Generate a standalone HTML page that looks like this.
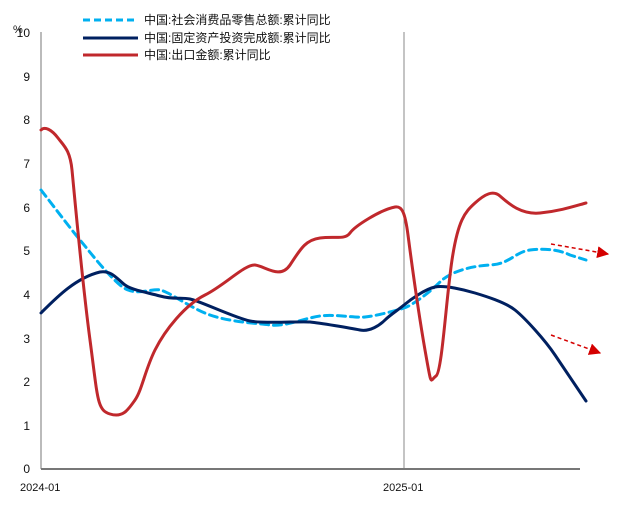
<!DOCTYPE html>
<html><head><meta charset="utf-8"><style>
body{margin:0;background:#fff;}
svg text{font-family:"Liberation Sans","Noto Sans CJK SC",sans-serif;font-size:12px;fill:#111;}
</style></head><body>
<svg width="634" height="506" viewBox="0 0 634 506" xmlns="http://www.w3.org/2000/svg">
<defs>
<marker id="ah2" viewBox="0 0 10 10" markerWidth="12" markerHeight="12" refX="9" refY="5" orient="auto" markerUnits="userSpaceOnUse"><path d="M0,0 L10,5 L0,10 z" fill="#d40000"/></marker></defs>
<line x1="41" y1="32" x2="41" y2="469" stroke="#777" stroke-width="1"/>
<line x1="404" y1="32" x2="404" y2="469" stroke="#888" stroke-width="1"/>
<line x1="41" y1="469" x2="580" y2="469" stroke="#777" stroke-width="2"/>
<g text-anchor="end">
<text x="30" y="473">0</text><text x="30" y="430">1</text><text x="30" y="386">2</text><text x="30" y="343">3</text><text x="30" y="299">4</text><text x="30" y="255">5</text><text x="30" y="212">6</text><text x="30" y="168">7</text><text x="30" y="124">8</text><text x="30" y="81">9</text><text x="30" y="37">10</text>
</g>
<text x="13" y="33" style="font-size:11px">%</text>
<text x="20" y="491" style="font-size:11px">2024-01</text>
<text x="383" y="491" style="font-size:11px">2025-01</text>
<g fill="none" stroke-linejoin="round" stroke-linecap="round">
<path stroke="#00b0f0" stroke-width="3" stroke-dasharray="8,5" d="M41,190 C55,208 70,228 80,240 S105,272 120,285 S150,288 160,290 S190,308 210,315 S255,323 270,325 S305,318 320,316 S355,318 365,317 S395,311 404,308 S430,292 440,282 S470,266 490,265 S515,252 530,250 S560,250 570,255 L586,260"/>
<path stroke="#002060" stroke-width="3" d="M41,313 C55,299 75,278 100,272 C112,270 118,280 125,285 S145,292 160,296 S180,297 190,299 S235,318 250,321 S300,321 310,322 S350,328 360,330 S380,325 385,320 S398,310 404,305 S425,289 435,287 S465,290 475,293 S505,302 515,310 S545,340 555,355 L586,401"/>
<path stroke="#c0282c" stroke-width="3" d="M41,130 C45,126 52,130 58,138 S70,150 72,170 S82,280 90,340 S97,410 110,414 S128,410 135,400 S145,370 155,350 S185,305 205,295 S245,264 255,265 S280,280 290,265 S305,240 320,238 S345,240 350,233 S380,210 395,207 C402,206 405,212 408,235 S418,310 425,350 S430,380 436,376 S446,300 452,260 S465,212 475,203 S493,190 500,196 S520,215 540,213 S575,206 586,203"/>
</g>
<line x1="551" y1="244" x2="608" y2="254" stroke="#d40000" stroke-width="1.5" stroke-dasharray="4,3" marker-end="url(#ah2)"/>
<line x1="551" y1="335" x2="600" y2="353" stroke="#d40000" stroke-width="1.5" stroke-dasharray="4,3" marker-end="url(#ah2)"/>
<line x1="83" y1="20" x2="138" y2="20" stroke="#00b0f0" stroke-width="3" stroke-dasharray="7,4"/>
<line x1="83" y1="38" x2="138" y2="38" stroke="#002060" stroke-width="3"/>
<line x1="83" y1="55" x2="138" y2="55" stroke="#c0282c" stroke-width="3"/>
<text x="144" y="24">中国:社会消费品零售总额:累计同比</text>
<text x="144" y="42">中国:固定资产投资完成额:累计同比</text>
<text x="144" y="59">中国:出口金额:累计同比</text>
</svg>
</body></html>
